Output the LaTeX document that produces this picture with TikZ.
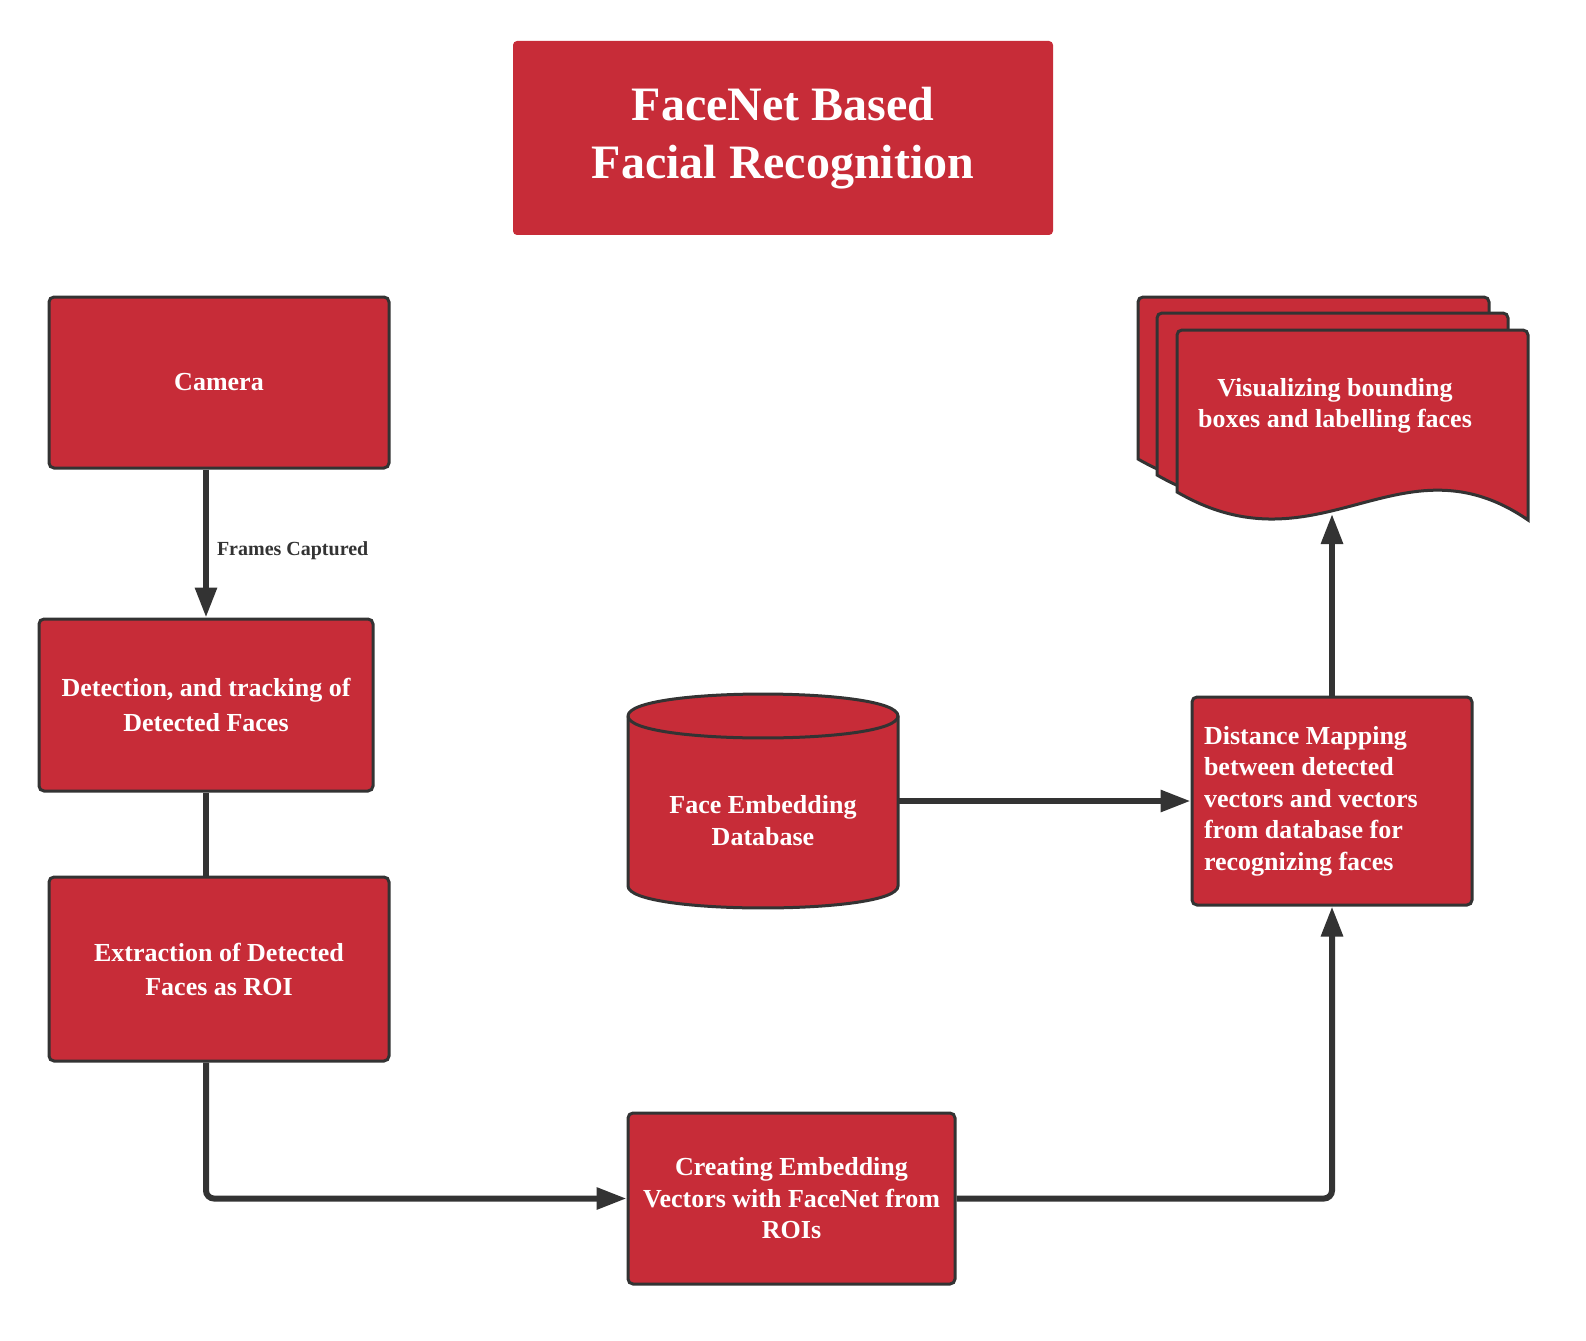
\documentclass[tikz,border=0pt]{standalone}
\usepackage{fontspec}
\setmainfont{Liberation Serif}
\usetikzlibrary{arrows.meta}
\definecolor{boxred}{HTML}{C72C38}
\definecolor{edgegray}{HTML}{333333}
\begin{document}
\begin{tikzpicture}[x=1pt,y=-1pt,
  box/.style={draw=edgegray, line width=3pt, fill=boxred, rounded corners=5pt,
    text=white, font=\bfseries\fontsize{26}{35}\selectfont, align=center, inner sep=0pt},
  titlebox/.style={fill=boxred, rounded corners=4pt, text=white,
    font=\bfseries\fontsize{48}{58}\selectfont, align=center, inner sep=0pt,
    minimum width=540pt, minimum height=194pt},
  sheet/.style={draw=edgegray, line width=3pt, fill=boxred},
  conn/.style={draw=edgegray, line width=6pt, rounded corners=8pt,
    -{Triangle[length=30pt,width=21pt]}},
  plainconn/.style={draw=edgegray, line width=6pt},
  lbl/.style={text=edgegray, font=\bfseries\fontsize{20}{24}\selectfont, inner sep=0pt},
  boxtext/.style={text=white, font=\bfseries\fontsize{26}{32}\selectfont, align=center, inner sep=0pt}
]
\useasboundingbox (0,0) rectangle (1586,1340);

% title
\node[titlebox] (title) at (783,138) {FaceNet Based\\Facial Recognition};

% boxes
\node[box, minimum width=340pt, minimum height=171pt] (cam) at (219,382.5) {Camera};
\node[box, minimum width=334pt, minimum height=172pt] (det) at (206,705) {Detection, and tracking of\\Detected Faces};
\node[box, minimum width=340pt, minimum height=184pt, font=\bfseries\fontsize{26}{34}\selectfont] (ext) at (219,969) {Extraction of Detected\\Faces as ROI};
\node[box, minimum width=327pt, minimum height=171pt, font=\bfseries\fontsize{26}{31.5}\selectfont] (cre) at (791.5,1198.5) {Creating Embedding\\Vectors with FaceNet from\\ROIs};
\node[box, minimum width=280pt, minimum height=208pt, text width=256pt, align=flush left,
  font=\bfseries\fontsize{26}{31.5}\selectfont] (dist) at (1332,801)
  {Distance Mapping\\between detected\\vectors and vectors\\from database for\\recognizing faces};

% database cylinder
\path[sheet] (628,716) -- (628,886) .. controls (628,915.3) and (898,915.3) .. (898,886)
  -- (898,716) .. controls (898,686.7) and (628,686.7) .. (628,716) -- cycle;
\draw[draw=edgegray, line width=3pt] (628,716) .. controls (628,745.3) and (898,745.3) .. (898,716);
\node[minimum width=270pt, minimum height=214pt, inner sep=0pt] (db) at (763,801) {};
\node[boxtext] (dbtext) at (763,821) {Face Embedding\\Database};

% document stack
\foreach \dx/\dy in {-39/-33,-20/-17,0/0}{
  \begin{scope}[shift={(\dx,\dy)}]
    \path[sheet] (1177,492) [rounded corners=5pt] -- (1177,330) -- (1528,330) [sharp corners] -- (1528,520)
      .. controls (1400,432) and (1320,575) .. (1177,492) -- cycle;
  \end{scope}
}
\node[boxtext, font=\bfseries\fontsize{26}{31}\selectfont] (vis) at (1335,406) {Visualizing bounding\\boxes and labelling faces};
\coordinate (docbot) at (1332,514);

% connectors
\draw[conn] (cam.south -| det.north) -- node[lbl, anchor=west, pos=0.55, xshift=8pt] (fc) {Frames Captured} (det.north);
\draw[plainconn] (det.south) -- (det.south |- ext.north);
\draw[conn] (det.south |- ext.south) |- (cre.west);
\draw[conn] (cre.east) -| (dist.south);
\draw[conn] (db.east) -- (dist.west);
\draw[conn] (dist.north) -- (docbot);
\end{tikzpicture}
\end{document}
